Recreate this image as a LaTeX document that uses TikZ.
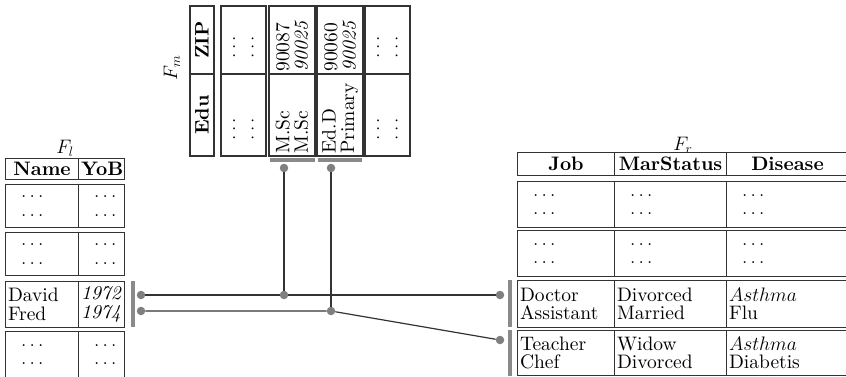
\RequirePackage{fix-cm}
\documentclass[tikz,border=0pt]{standalone}
\usepackage{fontspec}
\setmainfont{lmroman10}[Extension=.otf, UprightFont=*-regular, BoldFont=*-bold,
  ItalicFont=*-italic, BoldItalicFont=*-bolditalic]
\newcommand\tabfont{\fontsize{19.5}{18.5}\selectfont}
\newcommand\twodots{\hspace*{13pt}$\ldots$\\\hspace*{13pt}$\ldots$}
\definecolor{rule}{HTML}{333333}
\definecolor{barcol}{HTML}{8A8A8A}
\definecolor{dotcol}{HTML}{7F7F7F}
\tikzset{
  cell/.style={draw=rule, line width=1.1pt, inner xsep=2.5pt, inner ysep=0pt,
    anchor=north west, align=left, font=\tabfont},
  hcell/.style={cell, align=center, font=\tabfont\bfseries},
  rcell/.style={draw=rule, line width=1.1pt, inner xsep=2.5pt, inner ysep=0pt,
    rotate=90, anchor=center, align=left, font=\tabfont},
  rhcell/.style={rcell, align=center, font=\tabfont\bfseries},
  jdot/.style={circle, fill=dotcol, inner sep=0pt, minimum size=8.5pt},
  link/.style={draw=rule, line width=1.2pt},
  bar/.style={fill=barcol},
  lbl/.style={font=\tabfont}
}
\begin{document}
\begin{tikzpicture}[x=1pt,y=-1pt]
\useasboundingbox (0,0) rectangle (846,376);
\clip (0,0) rectangle (846,376);

% ---------- left table F_l ----------
\node[lbl] (Fl) at (65,148) {$F_l$};
\node[hcell, minimum width=73pt, text width=68pt, minimum height=21pt] (lhA) at (5,158) {Name};
\node[hcell, minimum width=46pt, text width=41pt, minimum height=21pt] (lhB) at (78,158) {YoB};
\node[cell, minimum width=73pt, text width=68pt, minimum height=43pt] (l1A) at (5,184) {\twodots};
\node[cell, minimum width=46pt, text width=41pt, minimum height=43pt] (l1B) at (78,184) {\twodots};
\node[cell, minimum width=73pt, text width=68pt, minimum height=43pt] (l2A) at (5,232) {\twodots};
\node[cell, minimum width=46pt, text width=41pt, minimum height=43pt] (l2B) at (78,232) {\twodots};
\node[cell, minimum width=73pt, text width=68pt, minimum height=46pt] (l3A) at (5,281) {David\\Fred};
\node[cell, minimum width=46pt, text width=41pt, minimum height=46pt] (l3B) at (78,281) {\textit{1972}\\\textit{1974}};
\node[cell, minimum width=73pt, text width=68pt, minimum height=46pt] (l4A) at (5,331) {\twodots};
\node[cell, minimum width=46pt, text width=41pt, minimum height=46pt] (l4B) at (78,331) {\twodots};

% ---------- middle table F_m (rotated) ----------
\node[lbl, rotate=90] (Fm) at (172,68) {$F_m$};
\node[rhcell, minimum width=68pt, text width=63pt, minimum height=24pt] (mhZ) at (202,40) {ZIP};
\node[rhcell, minimum width=82pt, text width=77pt, minimum height=24pt] (mhE) at (202,115) {Edu};
\node[rcell, minimum width=68pt, text width=63pt, minimum height=45pt] (m1Z) at (243.5,40) {\twodots};
\node[rcell, minimum width=82pt, text width=77pt, minimum height=45pt] (m1E) at (243.5,115) {\twodots};
\node[rcell, minimum width=68pt, text width=63pt, minimum height=46pt] (m2Z) at (292,40) {90087\\\textit{90025}};
\node[rcell, minimum width=82pt, text width=77pt, minimum height=46pt] (m2E) at (292,115) {M.Sc\\M.Sc};
\node[rcell, minimum width=68pt, text width=63pt, minimum height=46pt] (m3Z) at (340,40) {90060\\\textit{90025}};
\node[rcell, minimum width=82pt, text width=77pt, minimum height=46pt] (m3E) at (340,115) {Ed.D\\Primary};
\node[rcell, minimum width=68pt, text width=63pt, minimum height=45pt] (m4Z) at (387.5,40) {\twodots};
\node[rcell, minimum width=82pt, text width=77pt, minimum height=45pt] (m4E) at (387.5,115) {\twodots};

% ---------- right table F_r ----------
\node[lbl] (Fr) at (683,145) {$F_r$};
\node[hcell, minimum width=97pt, text width=92pt, minimum height=23pt] (rhA) at (517,152) {Job};
\node[hcell, minimum width=112pt, text width=107pt, minimum height=23pt] (rhB) at (614,152) {MarStatus};
\node[hcell, minimum width=122pt, text width=117pt, minimum height=23pt] (rhC) at (726,152) {Disease};
\node[cell, minimum width=97pt, text width=92pt, minimum height=46pt] (r1A) at (517,181) {\twodots};
\node[cell, minimum width=112pt, text width=107pt, minimum height=46pt] (r1B) at (614,181) {\twodots};
\node[cell, minimum width=122pt, text width=117pt, minimum height=46pt] (r1C) at (726,181) {\twodots};
\node[cell, minimum width=97pt, text width=92pt, minimum height=46pt] (r2A) at (517,230) {\twodots};
\node[cell, minimum width=112pt, text width=107pt, minimum height=46pt] (r2B) at (614,230) {\twodots};
\node[cell, minimum width=122pt, text width=117pt, minimum height=46pt] (r2C) at (726,230) {\twodots};
\node[cell, minimum width=97pt, text width=92pt, minimum height=47pt] (r3A) at (517,280) {Doctor\\Assistant};
\node[cell, minimum width=112pt, text width=107pt, minimum height=47pt] (r3B) at (614,280) {Divorced\\Married};
\node[cell, minimum width=122pt, text width=117pt, minimum height=47pt] (r3C) at (726,280) {$Asthma$\\Flu};
\node[cell, minimum width=97pt, text width=92pt, minimum height=45pt] (r4A) at (517,330) {Teacher\\Chef};
\node[cell, minimum width=112pt, text width=107pt, minimum height=45pt] (r4B) at (614,330) {Widow\\Divorced};
\node[cell, minimum width=122pt, text width=117pt, minimum height=45pt] (r4C) at (726,330) {$Asthma$\\Diabetis};

% ---------- selection bars ----------
\fill[bar] (131,281) rectangle (135,327);
\fill[bar] (270,158) rectangle (315,162);
\fill[bar] (318,158) rectangle (362,162);
\fill[bar] (508,280) rectangle (512,327);
\fill[bar] (508,330) rectangle (512,376);

% ---------- join points ----------
\node[jdot] (a1) at (141,295) {};
\node[jdot] (a2) at (141,311) {};
\node[jdot] (t1) at (284,168) {};
\node[jdot] (t2) at (331,168) {};
\node[jdot] (j1) at (284,295) {};
\node[jdot] (j2) at (331,311) {};
\node[jdot] (b1) at (500,295) {};
\node[jdot] (b2) at (500,340) {};

% ---------- links ----------
\path[link] (a1) -- (j1) -- (b1);
\path[link] (t1) -- (j1);
\path[link] (a2) -- (j2) -- (b2);
\path[link] (t2) -- (j2);
\end{tikzpicture}
\end{document}
